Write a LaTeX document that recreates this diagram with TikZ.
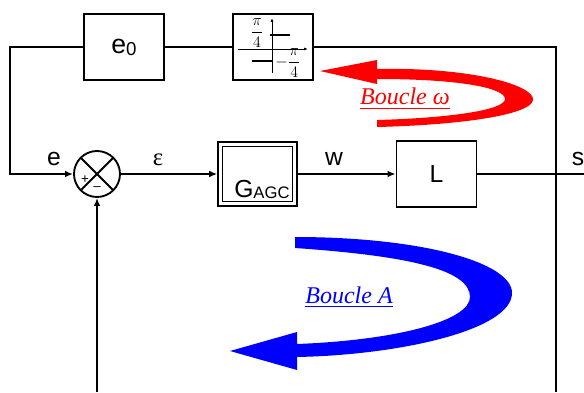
\documentclass[tikz,border=0pt]{standalone}
\usepackage{amsmath}
\usepackage{fontspec}
\setmainfont{Liberation Sans}
\newfontfamily\loopfont{Liberation Serif}
\usetikzlibrary{arrows.meta, positioning, calc}
\newcommand{\sigfont}{\fontsize{18.5}{20}\selectfont}
\newcommand{\subfont}{\fontsize{12.5}{14}\selectfont}
\tikzset{
    % plain block of the loop
    block/.style={draw, line width=1.4pt, minimum width=60pt, minimum height=49pt,
        inner sep=0pt, font=\sigfont},
    % double framed block (AGC gain)
    dblock/.style={draw, double, line width=1.1pt, double distance=2.2pt,
        outer sep=2.2pt, minimum width=56pt, minimum height=44.5pt, inner sep=0pt},
    % summing junction, a circle with a cross in it
    summer/.style={circle, draw, line width=1.4pt, minimum size=34.5pt, inner sep=0pt,
        path picture={\draw[line width=1.4pt]
            (path picture bounding box.north west) -- (path picture bounding box.south east)
            (path picture bounding box.north east) -- (path picture bounding box.south west);}},
    % signs at the summing junction
    pm/.style={font=\fontsize{10}{11}\selectfont, inner sep=0pt},
    % wires, with and without arrow head
    wire/.style={line width=1.4pt},
    flow/.style={wire, -{Latex[length=6pt, width=5pt]}},
    % thin axes of the small characteristic
    axis/.style={line width=0.6pt, -{Latex[length=3pt, width=2.2pt]}},
    % the pi/4 levels
    level/.style={font=\fontsize{12}{14}\selectfont, inner sep=0pt},
    % signal names on the wires
    sig/.style={font=\sigfont, inner sep=0pt, anchor=base},
    % curved loop arrows and their captions
    loopw/.style={fill=red},
    loopa/.style={fill=blue},
    capw/.style={font=\loopfont\itshape\fontsize{18}{20}\selectfont, text=red, inner sep=0pt, anchor=base},
    capa/.style={font=\loopfont\itshape\fontsize{18}{20}\selectfont, text=blue, inner sep=0pt, anchor=base},
}

\begin{document}
\begin{tikzpicture}[x=0.75pt, y=-0.75pt]
    \useasboundingbox (0,0) rectangle (584,392);

    % ---- upper branch ----
    \node[block, font=\fontsize{20}{22}\selectfont] (e0) at (124,47)
        {e\raisebox{-1.5pt}{\fontsize{14}{16}\selectfont 0}};
    \node[block] (sat) at (273,47) {};

    % characteristic drawn in the block
    \draw[axis] (238,49) -- (308,49);
    \draw[axis] (272,73) -- (272,18);
    \draw[line width=2pt] (270,35) -- (290,35);
    \draw[line width=2pt] (252,61) -- (272,61);
    \node[level] (pq)  at (257,33) {$\dfrac{\pi}{4}$};
    \node[level] (mpq) at (288,63) {$-\dfrac{\pi}{4}$};

    % ---- main chain ----
    \node[summer] (sum)   at (97,174)    {};
    \node[pm]     (plus)  at (85,180)    {+};
    \node[pm]     (minus) at (97,189)    {–};
    \node[dblock] (gagc)  at (257.5,174) {};
    \node[sig, anchor=base west] (lgagc) at (234,197)
        {G\raisebox{-1pt}{\subfont AGC}};
    \node[block]  (L)     at (436.5,174) {L};

    \coordinate (tl)  at (10,47);
    \coordinate (tr)  at (556,47);
    \coordinate (br)  at (556,392);
    \coordinate (fb)  at (97,392);
    \coordinate (out) at (584,174);

    \draw[wire] (e0.east) -- (sat.west);
    \draw[flow] (e0.west) -- (tl) |- (sum.west);
    \draw[wire] (sat.east) -- (tr) -- (br);
    \draw[flow] (sum.east) -- (gagc.west);
    \draw[flow] (gagc.east) -- (L.west);
    \draw[wire] (L.east) -- (out);
    \draw[flow] (fb) -- (sum.south);

    % signal names
    \node[sig] (le)   at (54,165)  {e};
    \node[sig] (leps) at (158,165) {\loopfont ε};
    \node[sig] (lw)   at (334,165) {w};
    \node[sig] (ls)   at (578,165) {s};

    % ---- loop arrows ----
    \fill[loopw] (377,69) .. controls (470,67) and (535,85) .. (533,100)
        .. controls (531,115) and (460,125) .. (377,127) -- (377,120)
        .. controls (450,118) and (505,110) .. (505,99)
        .. controls (505,88) and (460,79) .. (377,79)
        -- (377,84) -- (320,71) -- (377,60) -- cycle;
    \node[capw] (cw) at (405,105) {\underline{Boucle ω}};

    \fill[loopa] (295,237) .. controls (420,237) and (512,262) .. (512,293)
        .. controls (512,330) and (400,355) .. (297,357)
        -- (297,370) -- (230,351) -- (297,332) -- (297,344)
        .. controls (400,340) and (470,320) .. (470,297)
        .. controls (470,270) and (410,256) .. (295,248) -- cycle;
    \node[capa] (ca) at (349,303) {\underline{Boucle A}};

\end{tikzpicture}
\end{document}
